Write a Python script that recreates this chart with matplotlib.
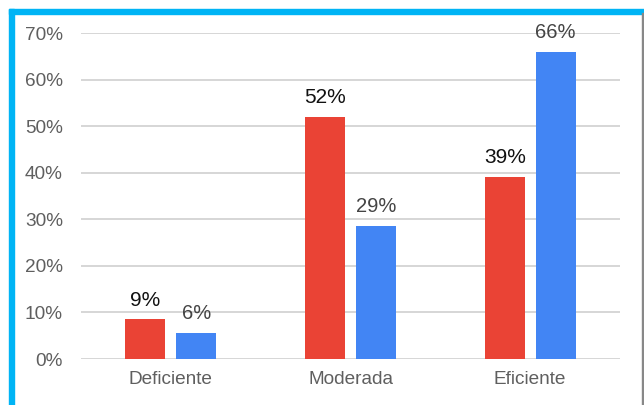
import matplotlib
matplotlib.use("Agg")
import matplotlib.pyplot as plt
from matplotlib.patches import Rectangle
import numpy as np

plt.rcParams["font.family"] = ["Liberation Sans", "DejaVu Sans"]

categories = ["Deficiente", "Moderada", "Eficiente"]
red_vals = [8.5, 52.0, 39.0]
blue_vals = [5.6, 28.5, 66.0]
red_labels = ["9%", "52%", "39%"]
blue_labels = ["6%", "29%", "66%"]
yticks = [0, 10, 20, 30, 40, 50, 60, 70]

RED = "#EA4335"
BLUE = "#4285F4"
GRID = "#d6d6d6"
TICK = "#5f5f5f"
CYAN = "#00B4F5"

fig = plt.figure(figsize=(6.44, 4.05), dpi=100)
ax = fig.add_axes([81 / 644, 46 / 405, 539 / 644, 326 / 405])

x = np.arange(len(categories))
w = 40 / 180
off = 25.5 / 180
rb = ax.bar(x - off, red_vals, w, color=RED, zorder=3)
bb = ax.bar(x + off, blue_vals, w, color=BLUE, zorder=3)

for bar, lab in zip(rb, red_labels):
    ax.annotate(lab, (bar.get_x() + bar.get_width() / 2, bar.get_height()),
                xytext=(0, 10), textcoords="offset points", ha="center",
                va="baseline", fontsize=15, color="#111111")
for bar, lab in zip(bb, blue_labels):
    ax.annotate(lab, (bar.get_x() + bar.get_width() / 2, bar.get_height()),
                xytext=(0, 10), textcoords="offset points", ha="center",
                va="baseline", fontsize=14.5, color="#444444")

ax.set_xlim(-0.5, 2.5)
ax.set_ylim(0, 70)
ax.set_yticks(yticks)
ax.set_yticklabels([f"{t}%" for t in yticks])
ax.set_xticks(x)
ax.set_xticklabels(categories)
ax.yaxis.grid(True, color=GRID, linewidth=1.4, zorder=0)
ax.set_axisbelow(True)
for s in ax.spines.values():
    s.set_visible(False)
ax.tick_params(axis="both", length=0, colors=TICK, labelsize=13.7)
ax.tick_params(axis="y", pad=13)
ax.tick_params(axis="x", pad=9)

# frame around the chart
fig.patches.append(Rectangle((9 / 644, 0), 4.5 / 644, 396 / 405,
                             transform=fig.transFigure, color=CYAN, zorder=10))
fig.patches.append(Rectangle((9 / 644, 391.5 / 405), 635 / 644, 4.5 / 405,
                             transform=fig.transFigure, color=CYAN, zorder=10))
fig.patches.append(Rectangle((642 / 644, 0), 1.5 / 644, 392 / 405,
                             transform=fig.transFigure, color="#888888", zorder=10))

fig.savefig("out.png", dpi=100, facecolor="white")
